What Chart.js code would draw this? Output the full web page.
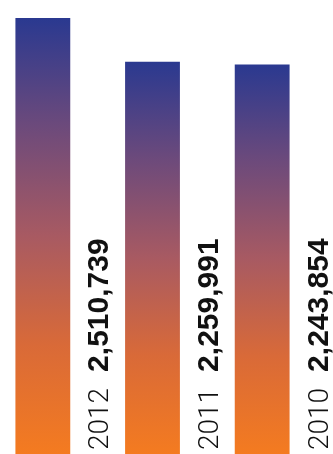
<!DOCTYPE html>
<html>
<head>
<meta charset="utf-8">
<script src="https://cdn.jsdelivr.net/npm/chart.js@4/dist/chart.umd.min.js"></script>
<style>
  html, body { margin: 0; padding: 0; background: #ffffff; overflow: hidden; }
  #page { width: 333px; height: 454px; position: relative; overflow: hidden; }
  #wrap { width: 345px; height: 454px; position: absolute; left: -12px; top: 0; }
</style>
</head>
<body>
<div id="page"><div id="wrap"><canvas id="c"></canvas></div></div>
<script>
// Yearly totals, one bar per year
const years = ['2012', '2011', '2010'];
const totals = [2510739, 2259991, 2243854];

// Blue-to-orange fill, running from each bar's top to the baseline
const gradientStops = [
  [0, '#2a3990'],
  [0.25, '#6d4a7b'],
  [0.5, '#a85a62'],
  [0.75, '#d96a38'],
  [1, '#f47b20']
];

function barGradient(ctx) {
  const chart = ctx.chart;
  if (!chart.chartArea || ctx.type !== 'data') return '#f47b20';
  const y = chart.scales.y;
  const top = y.getPixelForValue(ctx.raw);
  const bottom = y.getPixelForValue(0);
  const g = chart.ctx.createLinearGradient(0, top, 0, bottom);
  gradientStops.forEach(([p, c]) => g.addColorStop(p, c));
  return g;
}

// Vertical labels beside each bar: light year, then bold total
const sideLabels = {
  id: 'sideLabels',
  afterDatasetsDraw(chart) {
    const ctx = chart.ctx;
    const meta = chart.getDatasetMeta(0);
    meta.data.forEach((bar, i) => {
      const right = bar.x + bar.width / 2;
      const baseX = right + 38;
      const startY = 450;
      ctx.save();
      ctx.translate(baseX, startY);
      ctx.rotate(-Math.PI / 2);
      ctx.fillStyle = '#111111';
      ctx.textBaseline = 'alphabetic';
      ctx.textAlign = 'left';
      ctx.font = '300 28px "Roboto", "Liberation Sans", sans-serif';
      const yearText = years[i];
      ctx.fillText(yearText, 0, 0);
      const w = ctx.measureText(yearText).width;
      ctx.font = 'bold 30px "Liberation Sans", Arial, sans-serif';
      ctx.fillText(totals[i].toLocaleString('en-US'), w + 16, 0);
      ctx.restore();
    });
  }
};

new Chart(document.getElementById('c'), {
  type: 'bar',
  data: {
    labels: years,
    datasets: [{
      data: totals,
      backgroundColor: barGradient,
      borderWidth: 0,
      barPercentage: 0.5,
      categoryPercentage: 1
    }]
  },
  options: {
    responsive: true,
    maintainAspectRatio: false,
    animation: false,
    layout: { padding: { left: 0, right: 16, top: 0, bottom: 0 } },
    plugins: {
      legend: { display: false },
      tooltip: { enabled: false }
    },
    scales: {
      x: { display: false, grid: { display: false } },
      y: { display: false, min: 0, max: 2615000, grid: { display: false } }
    }
  },
  plugins: [sideLabels]
});
</script>
</body>
</html>
